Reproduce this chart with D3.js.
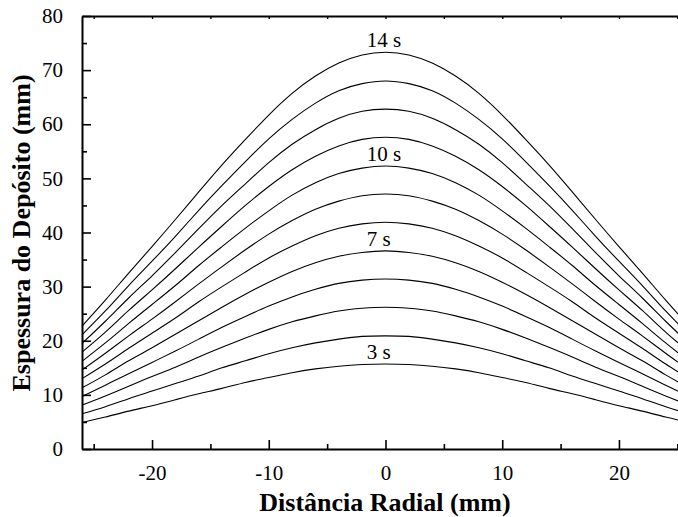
<!DOCTYPE html>
<html>
<head>
<meta charset="utf-8">
<script src="https://cdn.jsdelivr.net/npm/d3@7/dist/d3.min.js"></script>
<style>
  html, body { margin: 0; padding: 0; background: #fff; overflow: hidden; }
  svg { display: block; }
  text { font-family: "Liberation Serif", "Times New Roman", serif; fill: #000; }
</style>
</head>
<body>
<svg id="chart" width="678" height="517"></svg>
<script>
// Radial positions (mm)
const xValues = [-26, -24, -22, -20, -18, -16, -14, -12, -10, -8, -6, -4, -2, 0,
                 2, 4, 6, 8, 10, 12, 14, 16, 18, 20, 22, 24, 26];

// Deposit thickness (mm) for each time
const t3  = [4.9, 5.9, 7.0, 8.0, 9.1, 10.2, 11.2, 12.3, 13.2, 14.1, 14.8, 15.3, 15.6, 15.7, 15.6, 15.3, 14.8, 14.1, 13.2, 12.3, 11.2, 10.2, 9.1, 8.0, 7.0, 5.9, 4.9];
const t4  = [6.5, 7.8, 9.3, 10.7, 12.1, 13.5, 15.0, 16.3, 17.6, 18.7, 19.6, 20.3, 20.8, 20.9, 20.8, 20.3, 19.6, 18.7, 17.6, 16.3, 15.0, 13.5, 12.1, 10.7, 9.3, 7.8, 6.5];
const t5  = [8.1, 9.8, 11.6, 13.4, 15.1, 17.0, 18.8, 20.5, 22.1, 23.5, 24.6, 25.5, 26.0, 26.2, 26.0, 25.5, 24.6, 23.5, 22.1, 20.5, 18.8, 17.0, 15.1, 13.4, 11.6, 9.8, 8.1];
const t6  = [9.7, 11.8, 13.9, 16.0, 18.1, 20.3, 22.5, 24.5, 26.4, 28.1, 29.5, 30.6, 31.2, 31.4, 31.2, 30.6, 29.5, 28.1, 26.4, 24.5, 22.5, 20.3, 18.1, 16.0, 13.9, 11.8, 9.7];
const t7  = [11.3, 13.7, 16.3, 18.7, 21.2, 23.7, 26.2, 28.6, 30.8, 32.8, 34.4, 35.6, 36.3, 36.6, 36.3, 35.6, 34.4, 32.8, 30.8, 28.6, 26.2, 23.7, 21.2, 18.7, 16.3, 13.7, 11.3];
const t8  = [13.0, 15.7, 18.6, 21.4, 24.2, 27.2, 30.0, 32.7, 35.3, 37.5, 39.4, 40.8, 41.6, 41.9, 41.6, 40.8, 39.4, 37.5, 35.3, 32.7, 30.0, 27.2, 24.2, 21.4, 18.6, 15.7, 13.0];
const t9  = [14.6, 17.7, 20.9, 24.0, 27.2, 30.5, 33.7, 36.8, 39.7, 42.2, 44.3, 45.8, 46.8, 47.1, 46.8, 45.8, 44.3, 42.2, 39.7, 36.8, 33.7, 30.5, 27.2, 24.0, 20.9, 17.7, 14.6];
const t10 = [16.2, 19.6, 23.2, 26.7, 30.2, 33.9, 37.4, 40.8, 44.0, 46.9, 49.2, 50.9, 51.9, 52.3, 51.9, 50.9, 49.2, 46.9, 44.0, 40.8, 37.4, 33.9, 30.2, 26.7, 23.2, 19.6, 16.2];
const t11 = [17.9, 21.6, 25.6, 29.4, 33.3, 37.3, 41.2, 45.0, 48.5, 51.6, 54.1, 56.0, 57.2, 57.6, 57.2, 56.0, 54.1, 51.6, 48.5, 45.0, 41.2, 37.3, 33.3, 29.4, 25.6, 21.6, 17.9];
const t12 = [19.5, 23.6, 27.9, 32.0, 36.3, 40.7, 45.0, 49.0, 52.9, 56.3, 59.0, 61.1, 62.4, 62.8, 62.4, 61.1, 59.0, 56.3, 52.9, 49.0, 45.0, 40.7, 36.3, 32.0, 27.9, 23.6, 19.5];
const t13 = [21.1, 25.5, 30.2, 34.7, 39.3, 44.1, 48.7, 53.1, 57.3, 60.9, 63.9, 66.2, 67.5, 68.0, 67.5, 66.2, 63.9, 60.9, 57.3, 53.1, 48.7, 44.1, 39.3, 34.7, 30.2, 25.5, 21.1];
const t14 = [22.7, 27.5, 32.5, 37.4, 42.4, 47.5, 52.5, 57.2, 61.7, 65.7, 68.9, 71.3, 72.8, 73.3, 72.8, 71.3, 68.9, 65.7, 61.7, 57.2, 52.5, 47.5, 42.4, 37.4, 32.5, 27.5, 22.7];

const seriesList = [t3, t4, t5, t6, t7, t8, t9, t10, t11, t12, t13, t14];
const seriesTimes = [3, 4, 5, 6, 7, 8, 9, 10, 11, 12, 13, 14];
const labelTimes = [14, 10, 7, 3];
const labelTexts = ["14 s", "10 s", "7 s", "3 s"];

const xTicksMajor = [-20, -10, 0, 10, 20];
const xTicksMinor = [-25, -15, -5, 5, 15, 25];
const yTicksMajor = [0, 10, 20, 30, 40, 50, 60, 70, 80];
const yTicksMinor = [5, 15, 25, 35, 45, 55, 65, 75];

const xTitle = "Distância Radial (mm)";
const yTitle = "Espessura do Depósito (mm)";

const svg = d3.select("#chart");
const L = 82, R = 689, T = 16, B = 449;

const x = d3.scaleLinear().domain([-26, 26]).range([L, R]);
const y = d3.scaleLinear().domain([0, 80]).range([B, T]);
const fmt = d => String(d).replace("\u2212", "-");

// curves
const line = d3.line()
  .x((d, i) => x(xValues[i]))
  .y(d => y(d))
  .curve(d3.curveNatural);

svg.append("g").selectAll("path").data(seriesList).join("path")
  .attr("d", d => line(d))
  .attr("fill", "none")
  .attr("stroke", "#000")
  .attr("stroke-width", 1.1);

// labels
labelTimes.forEach((t, k) => {
  const s = seriesList[seriesTimes.indexOf(t)];
  const peak = s[xValues.indexOf(0)];
  svg.append("text")
    .attr("x", x(-1.6))
    .attr("y", y(peak) - 5)
    .attr("font-size", 21)
    .text(labelTexts[k]);
});

// axes
const gx = svg.append("g").attr("transform", `translate(0,${B})`)
  .call(d3.axisBottom(x).tickValues(xTicksMajor).tickSizeInner(-9).tickSizeOuter(0).tickPadding(16).tickFormat(fmt));
gx.selectAll(".tick text").attr("font-size", 21).attr("font-family", "Liberation Serif");
gx.selectAll(".tick line").attr("stroke-width", 1.6);
gx.select(".domain").attr("stroke-width", 2);
const gxm = svg.append("g").attr("transform", `translate(0,${B})`)
  .call(d3.axisBottom(x).tickValues(xTicksMinor).tickSizeInner(-5).tickSizeOuter(0).tickFormat(""));
gxm.select(".domain").remove();
gxm.selectAll(".tick line").attr("stroke-width", 1.6);

const gt = svg.append("g").attr("transform", `translate(0,${T})`)
  .call(d3.axisTop(x).tickValues(xTicksMajor.concat(xTicksMinor)).tickSizeInner(-3).tickSizeOuter(0).tickFormat(""));
gt.select(".domain").attr("stroke-width", 2);
gt.selectAll(".tick line").attr("stroke-width", 1.4);

const gy = svg.append("g").attr("transform", `translate(${L},0)`)
  .call(d3.axisLeft(y).tickValues(yTicksMajor).tickSizeInner(-9).tickSizeOuter(0).tickPadding(19).tickFormat(fmt));
gy.selectAll(".tick text").attr("font-size", 21).attr("font-family", "Liberation Serif");
gy.selectAll(".tick line").attr("stroke-width", 1.6);
gy.select(".domain").attr("stroke-width", 2);
const gym = svg.append("g").attr("transform", `translate(${L},0)`)
  .call(d3.axisLeft(y).tickValues(yTicksMinor).tickSizeInner(-5).tickSizeOuter(0).tickFormat(""));
gym.select(".domain").remove();
gym.selectAll(".tick line").attr("stroke-width", 1.6);

// axis titles
svg.append("text")
  .attr("x", 385).attr("y", 511)
  .attr("text-anchor", "middle")
  .attr("font-size", 26).attr("font-weight", "bold")
  .text(xTitle);

svg.append("text")
  .attr("transform", `translate(30,233) rotate(-90)`)
  .attr("text-anchor", "middle")
  .attr("font-size", 26).attr("font-weight", "bold")
  .text(yTitle);
</script>
</body>
</html>
